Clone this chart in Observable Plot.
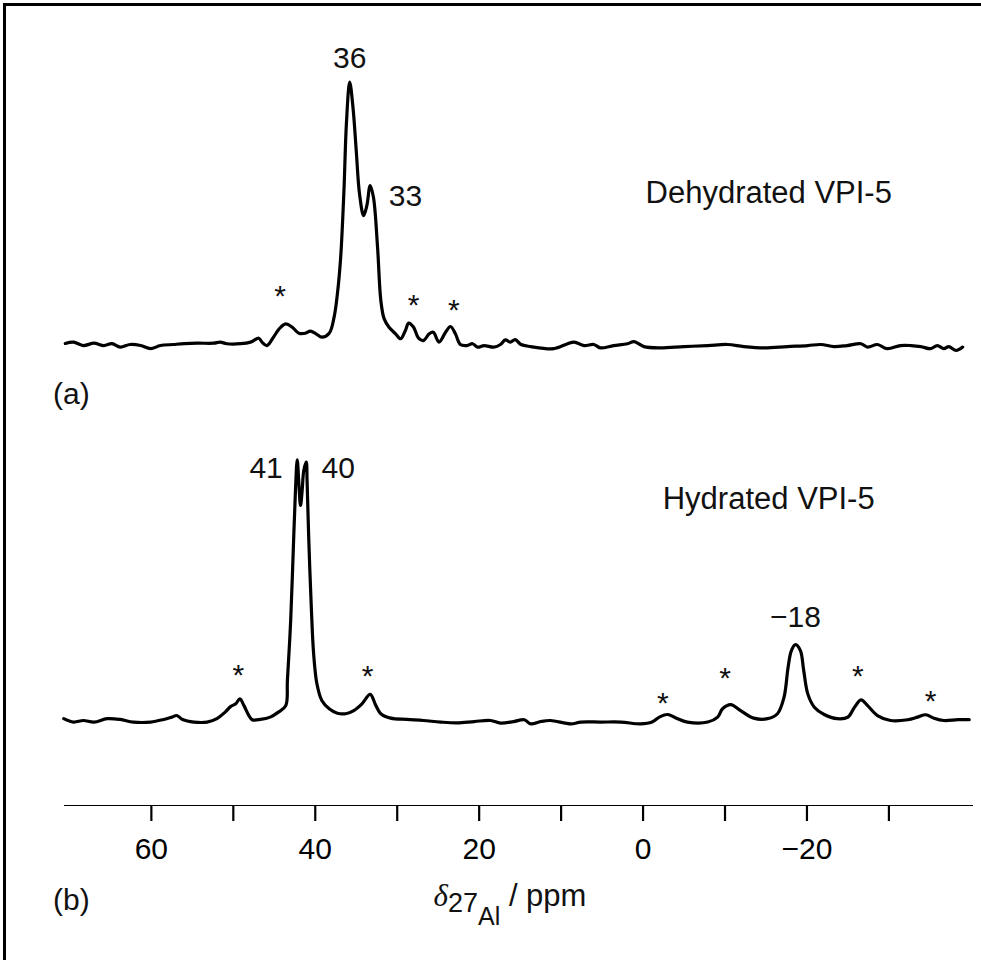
<!DOCTYPE html>
<html>
<head>
<meta charset="utf-8">
<script src="https://cdn.jsdelivr.net/npm/d3@7"></script>
<script src="https://cdn.jsdelivr.net/npm/@observablehq/plot@0.6"></script>
<style>
html, body { margin: 0; padding: 0; background: #fff; }
#wrap { position: relative; width: 981px; height: 960px; overflow: hidden; font-family: "Liberation Sans", Arial, Helvetica, sans-serif; }
#wrap svg { position: absolute; left: 0; top: 0; overflow: visible; }
#border { position: absolute; left: 3px; top: 3px; width: 2000px; height: 2000px; border-left: 3px solid #000; border-top: 3px solid #000; }
</style>
</head>
<body>
<div id="wrap"><div id="border"></div></div>
<script>
// ---- x axis (chemical shift, ppm) ----
const xDomain = [70.6, -40.2];
const xTicks = [60, 50, 40, 30, 20, 10, 0, -10, -20, -30];
const xTickLabels = ["60", "", "40", "", "20", "", "0", "", "\u221220", ""];

// ---- (a) Dehydrated VPI-5 spectrum ----
const dehydratedPpm = [70.5,69.5,68.3,67.0,65.8,64.8,63.8,62.6,61.3,60.1,
  58.9,57.3,56.0,54.4,52.4,51.6,50.8,49.1,47.9,46.9,
  46.5,45.9,45.1,44.4,43.6,42.8,42.0,41.2,40.6,39.9,
  39.2,38.3,37.7,37.3,36.9,36.5,36.2,35.8,35.4,35.0,
  34.6,34.1,33.7,33.3,32.9,32.4,32.0,31.6,31.0,30.2,
  29.6,29.0,28.6,28.0,27.4,26.8,26.1,25.6,24.9,24.1,
  23.5,22.9,22.3,21.5,20.8,20.2,19.4,18.2,17.4,16.8,
  16.2,15.6,14.9,13.7,10.9,9.2,8.4,7.2,6.0,5.2,
  3.6,1.9,1.1,-0.1,-2.1,-5.0,-7.9,-10.3,-12.3,-14.8,
  -17.6,-20.1,-21.7,-23.3,-24.9,-26.6,-27.4,-28.6,-29.8,-31.4,
  -32.7,-33.9,-35.1,-35.9,-36.7,-37.3,-38.2,-39.0];
const dehydratedIntensity = [0.4,0.9,-0.4,0.5,-0.4,0.3,-1.0,0,-0.4,-1.6,
  -0.4,0,0.3,0.5,0.5,0.9,0.3,0.3,0.9,2.4,
  0.9,-0.4,2.8,6.0,7.9,6.6,4.3,4.3,5.1,4.1,
  2.8,4.3,10.5,19.4,33.4,59.0,84.6,100.5,90.9,74.3,
  57.7,49.4,53.3,60.9,56.4,37.3,16.9,9.9,6.6,4.1,
  2.2,5.4,8.2,6.6,2.4,1.5,4.1,4.7,0.9,4.7,
  6.9,4.1,0,-0.4,0.3,-1.0,-0.4,-1.0,0,1.8,
  0.9,1.9,0,-0.8,-1.6,0.3,0.9,-0.4,0,-1.3,
  -0.4,0.3,1.1,-0.8,-1.3,-0.8,-0.4,0,-0.8,-1.3,
  -0.8,-0.4,0,-0.8,-0.4,0.3,-1.0,0,-1.6,-0.4,
  -0.4,-0.8,-1.6,-0.4,-1.6,-0.8,-2.3,-1.0];
const dehydratedPeakText = ["36", "33"];
const dehydratedPeakPpm = [35.8, 29.0];
const dehydratedPeakIntensity = [109.6, 56.7];
const dehydratedStarPpm = [44.3, 28.0, 23.1];
const dehydratedStarIntensity = [21.5, 18.0, 16.1];

// ---- (b) Hydrated VPI-5 spectrum ----
const hydratedPpm = [70.7,69.5,68.3,67.0,65.4,63.8,62.2,60.1,58.5,57.5,
  56.9,56.2,54.8,53.2,52.0,51.0,50.3,49.7,49.2,48.7,
  48.1,47.7,46.7,45.5,44.5,43.6,43.4,43.0,42.7,42.4,
  42.2,42.0,41.8,41.6,41.4,41.1,41.0,40.8,40.5,40.2,
  39.8,39.2,38.3,37.3,36.3,35.3,34.3,33.3,32.6,32.0,
  30.8,28.8,26.8,24.7,22.7,20.6,18.6,17.4,15.8,14.5,
  13.7,12.5,11.3,8.8,7.6,5.2,2.7,0.3,-1.1,-2.1,
  -3.0,-4.0,-5.4,-7.9,-9.1,-9.7,-10.7,-11.9,-13.5,-15.2,
  -16.4,-17.2,-17.7,-18.1,-18.6,-19.2,-19.6,-20.1,-20.9,-22.1,
  -23.7,-25.0,-25.8,-26.6,-27.4,-28.6,-30.2,-32.3,-33.5,-34.5,
  -35.5,-36.7,-38.4,-39.8];
const hydratedIntensity = [0.7,-0.6,0,-0.6,0.7,0.4,-0.6,-0.6,0.4,1.3,
  1.9,0.4,-0.6,-0.6,0.7,3.2,5.4,6.4,8.3,5.7,
  1.9,0.3,0.4,1.3,3.2,5.7,15.3,38.3,63.9,89.4,
  99.9,90.7,82.4,88.1,95.8,99.0,92.0,70.2,44.7,25.6,
  14.1,7.7,4.5,2.8,2.6,3.8,6.4,10.0,5.7,2.6,
  0.9,0.4,0,-0.6,-0.9,-0.4,0,-1.0,-0.4,0.3,
  -1.3,-0.4,0,-1.3,-0.6,-0.6,-0.6,-1.3,-0.6,1.5,
  2.3,1.0,-0.6,-0.6,1.3,4.5,6.1,3.8,0.9,0.7,
  2.6,8.9,20.4,26.8,29.1,26.8,19.2,10.2,5.1,2.3,
  0.7,1.3,5.1,7.9,5.7,1.9,0,0.3,1.3,2.2,
  0.9,0,0.3,0.3];
const hydratedPeakText = ["41", "40", "\u221218"];
const hydratedPeakPpm = [46.0, 37.2, -18.6];
const hydratedPeakIntensity = [96.6, 96.6, 39.5];
const hydratedStarPpm = [49.4, 33.6, -2.4, -10.0, -26.2, -35.1];
const hydratedStarIntensity = [20.3, 19.9, 9.6, 19.2, 19.9, 10.3];

// ---- panel texts ----
const sampleNames = ["Dehydrated VPI-5", "Hydrated VPI-5"];
const sampleNamePpm = [-0.3, -2.4];
const sampleNameIntensity = [57.9, 84.7];
const panelLetters = ["(a)", "(b)"];
const panelLetterPpm = [72.0, 72.0];
const panelLetterIntensity = [-19.3, -69.0];

// ---- build tables ----
const zip = (ppm, inten, extra) => ppm.map((p, i) => ({ppm: p, i: inten[i], t: extra ? extra[i] : null}));
const specA = zip(dehydratedPpm, dehydratedIntensity);
const specB = zip(hydratedPpm, hydratedIntensity);
const peaksA = zip(dehydratedPeakPpm, dehydratedPeakIntensity, dehydratedPeakText);
const peaksB = zip(hydratedPeakPpm, hydratedPeakIntensity, hydratedPeakText);
const starsA = zip(dehydratedStarPpm, dehydratedStarIntensity);
const starsB = zip(hydratedStarPpm, hydratedStarIntensity);

const W = 981, H = 960;
const fontFamily = '"Liberation Sans", Arial, Helvetica, sans-serif';
const common = {
  width: W, height: H,
  marginLeft: 64, marginRight: 9, marginTop: 0, marginBottom: 155,
  style: {fontFamily, fontSize: "30px", background: "transparent", color: "#000", overflow: "visible"}
};
const lineOpts = {x: "ppm", y: "i", curve: "catmull-rom", stroke: "#000", strokeWidth: 3.2, strokeLinejoin: "round"};
const textFill = "#111";

const plotA = Plot.plot({
  ...common,
  x: {domain: xDomain, range: [64, 972], axis: null},
  y: {domain: [0, 100], range: [344, 83], axis: null},
  marks: [
    Plot.line(specA, lineOpts),
    Plot.text(peaksA, {x: "ppm", y: "i", text: "t", fontSize: 30, fill: textFill}),
    Plot.text(starsA, {x: "ppm", y: "i", text: () => "*", fontSize: 30, dy: 8, fill: textFill}),
    Plot.text([0], {x: () => sampleNamePpm[0], y: () => sampleNameIntensity[0], text: () => sampleNames[0], textAnchor: "start", fontSize: 31, fill: textFill}),
    Plot.text([0], {x: () => panelLetterPpm[0], y: () => panelLetterIntensity[0], text: () => panelLetters[0], textAnchor: "start", fontSize: 30, fill: textFill})
  ]
});

const plotB = Plot.plot({
  ...common,
  x: {
    domain: xDomain, range: [64, 972],
    ticks: xTicks, tickSize: 16, tickPadding: 16,
    tickFormat: d => xTickLabels[xTicks.indexOf(d)],
    line: true, label: null
  },
  y: {domain: [0, 100], range: [720, 459], axis: null},
  marks: [
    Plot.line(specB, lineOpts),
    Plot.text(peaksB, {x: "ppm", y: "i", text: "t", fontSize: 30, fill: textFill}),
    Plot.text(starsB, {x: "ppm", y: "i", text: () => "*", fontSize: 30, dy: 8, fill: textFill}),
    Plot.text([0], {x: () => sampleNamePpm[1], y: () => sampleNameIntensity[1], text: () => sampleNames[1], textAnchor: "start", fontSize: 31, fill: textFill}),
    Plot.text([0], {x: () => panelLetterPpm[1], y: () => panelLetterIntensity[1], text: () => panelLetters[1], textAnchor: "start", fontSize: 30, fill: textFill})
  ]
});

const wrap = document.getElementById("wrap");
wrap.appendChild(plotA);
wrap.appendChild(plotB);

// thicken axis strokes
d3.select(plotB).selectAll('[aria-label^="x-axis"] path, [aria-label^="x-axis"] line').attr("stroke-width", 2.2);
d3.select(plotB).selectAll('[aria-label="x-axis tick"]').attr("stroke-width", 2.2);
d3.select(plotB).selectAll('[aria-label="x-axis line"]').attr("stroke-width", 2.2);

// axis title: δ with 27Al subscript
const xs = plotB.scale("x");
const cx = (xs.range[0] + xs.range[1]) / 2 - 8;
const title = d3.select(plotB).append("text")
  .attr("x", cx).attr("y", H - 54)
  .attr("text-anchor", "middle")
  .attr("font-family", fontFamily)
  .attr("font-size", 31)
  .attr("fill", textFill);
title.append("tspan").attr("font-family", '"Liberation Serif", "DejaVu Serif", serif').attr("font-style", "italic").text("\u03b4");
title.append("tspan").attr("font-size", 27).attr("dy", 6).text("27");
title.append("tspan").attr("font-size", 25).attr("dy", 13).text("Al");
title.append("tspan").attr("dy", -19).text(" / ppm");
</script>
</body>
</html>
